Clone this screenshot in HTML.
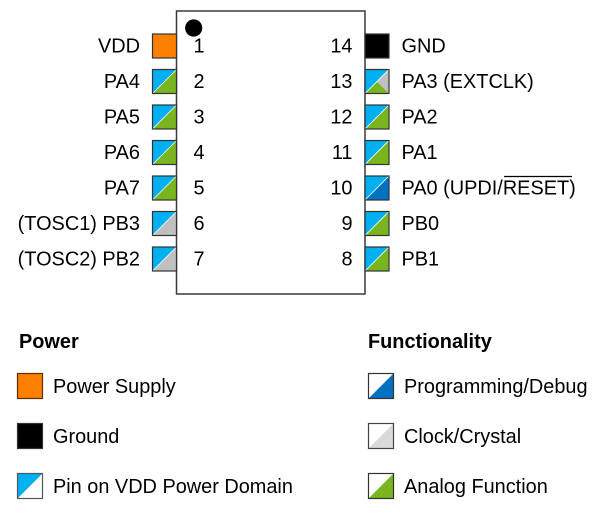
<!DOCTYPE html>
<html><head><meta charset="utf-8"><style>
html,body{margin:0;padding:0;background:#fff;}
svg{display:block;}
text{font-family:"Liberation Sans",Arial,sans-serif;font-size:19.9px;fill:#000;}
.b{font-weight:bold;}
</style></head><body>
<svg width="606" height="522" viewBox="0 0 606 522" xmlns="http://www.w3.org/2000/svg">
<defs>
<g id="ca">
<polygon points="0,0 24,0 0,24" fill="#00B0F0"/>
<polygon points="24,0 24,24 0,24" fill="#78B51F"/>
<line x1="0" y1="24" x2="24" y2="0" stroke="#fff" stroke-width="0.8"/>
<rect x="0" y="0" width="24" height="24" fill="none" stroke="#333" stroke-width="1.2"/>
</g>
<g id="cg">
<polygon points="0,0 24,0 0,24" fill="#00B0F0"/>
<polygon points="24,0 24,24 0,24" fill="#BFBFBF"/>
<line x1="0" y1="24" x2="24" y2="0" stroke="#fff" stroke-width="0.8"/>
<rect x="0" y="0" width="24" height="24" fill="none" stroke="#333" stroke-width="1.2"/>
</g>
<g id="cb">
<polygon points="0,0 24,0 0,24" fill="#00B0F0"/>
<polygon points="24,0 24,24 0,24" fill="#0070C0"/>
<line x1="0" y1="24" x2="24" y2="0" stroke="#fff" stroke-width="0.8"/>
<rect x="0" y="0" width="24" height="24" fill="none" stroke="#333" stroke-width="1.2"/>
</g>
<g id="c3">
<polygon points="0,0 24,0 0,24" fill="#00B0F0"/>
<polygon points="0,24 12,12 24,24" fill="#78B51F"/>
<polygon points="24,0 12,12 24,24" fill="#BFBFBF"/>
<line x1="0" y1="24" x2="24" y2="0" stroke="#fff" stroke-width="0.8"/>
<rect x="0" y="0" width="24" height="24" fill="none" stroke="#333" stroke-width="1.2"/>
</g>
</defs>

<rect x="176.5" y="11" width="188.5" height="283" fill="#fff" stroke="#3a3a3a" stroke-width="1.5"/>
<circle cx="193.7" cy="28" r="8.6" fill="#000"/>

<rect x="152.5" y="34" width="24" height="24" fill="#FF8000" stroke="#333" stroke-width="1.2"/>
<use href="#ca" x="152.5" y="69.5"/>
<use href="#ca" x="152.5" y="105"/>
<use href="#ca" x="152.5" y="140.5"/>
<use href="#ca" x="152.5" y="176"/>
<use href="#cg" x="152.5" y="211.5"/>
<use href="#cg" x="152.5" y="247"/>

<rect x="365" y="34" width="24" height="24" fill="#000" stroke="#333" stroke-width="1.2"/>
<use href="#c3" x="365" y="69.5"/>
<use href="#ca" x="365" y="105"/>
<use href="#ca" x="365" y="140.5"/>
<use href="#cb" x="365" y="176"/>
<use href="#ca" x="365" y="211.5"/>
<use href="#ca" x="365" y="247"/>

<g text-anchor="end">
<text x="140" y="52.3">VDD</text>
<text x="140" y="87.8">PA4</text>
<text x="140" y="123.3">PA5</text>
<text x="140" y="158.8">PA6</text>
<text x="140" y="194.3">PA7</text>
<text x="140" y="229.8">(TOSC1) PB3</text>
<text x="140" y="265.3">(TOSC2) PB2</text>
</g>
<g text-anchor="middle">
<text x="199" y="52.3">1</text>
<text x="199" y="87.8">2</text>
<text x="199" y="123.3">3</text>
<text x="199" y="158.8">4</text>
<text x="199" y="194.3">5</text>
<text x="199" y="229.8">6</text>
<text x="199" y="265.3">7</text>
</g>
<g text-anchor="end">
<text x="352.5" y="52.3">14</text>
<text x="352.5" y="87.8">13</text>
<text x="352.5" y="123.3">12</text>
<text x="352.5" y="158.8">11</text>
<text x="352.5" y="194.3">10</text>
<text x="352.5" y="229.8">9</text>
<text x="352.5" y="265.3">8</text>
</g>
<text x="401.5" y="52.3">GND</text>
<text x="401.5" y="87.8">PA3 (EXTCLK)</text>
<text x="401.5" y="123.3">PA2</text>
<text x="401.5" y="158.8">PA1</text>
<text x="401.5" y="194.3">PA0 (UPDI/RESET)</text>
<line x1="504" y1="176.5" x2="572" y2="176.5" stroke="#000" stroke-width="1.2"/>
<text x="401.5" y="229.8">PB0</text>
<text x="401.5" y="265.3">PB1</text>

<text class="b" x="19" y="348">Power</text>
<rect x="17.5" y="373.5" width="25" height="25" fill="#FF8000" stroke="#5a3000" stroke-width="1.2"/>
<text x="53" y="393">Power Supply</text>
<rect x="17.5" y="423.5" width="25" height="25" fill="#000" stroke="#333" stroke-width="1.2"/>
<text x="53" y="443">Ground</text>
<polygon points="17.5,473.5 42.5,473.5 17.5,498.5" fill="#00B0F0"/>
<rect x="17.5" y="473.5" width="25" height="25" fill="none" stroke="#555" stroke-width="1.2"/>
<text x="53" y="493">Pin on VDD Power Domain</text>

<text class="b" x="368" y="348">Functionality</text>
<polygon points="393.5,373.5 393.5,398.5 368.5,398.5" fill="#0070C0"/>
<rect x="368.5" y="373.5" width="25" height="25" fill="none" stroke="#333" stroke-width="1.2"/>
<text x="404" y="393">Programming/Debug</text>
<polygon points="393.5,423.5 393.5,448.5 368.5,448.5" fill="#D9D9D9"/>
<rect x="368.5" y="423.5" width="25" height="25" fill="none" stroke="#444" stroke-width="1.2"/>
<text x="404" y="443">Clock/Crystal</text>
<polygon points="393.5,473.5 393.5,498.5 368.5,498.5" fill="#78B51F"/>
<rect x="368.5" y="473.5" width="25" height="25" fill="none" stroke="#333" stroke-width="1.2"/>
<text x="404" y="493">Analog Function</text>
</svg>
</body></html>
